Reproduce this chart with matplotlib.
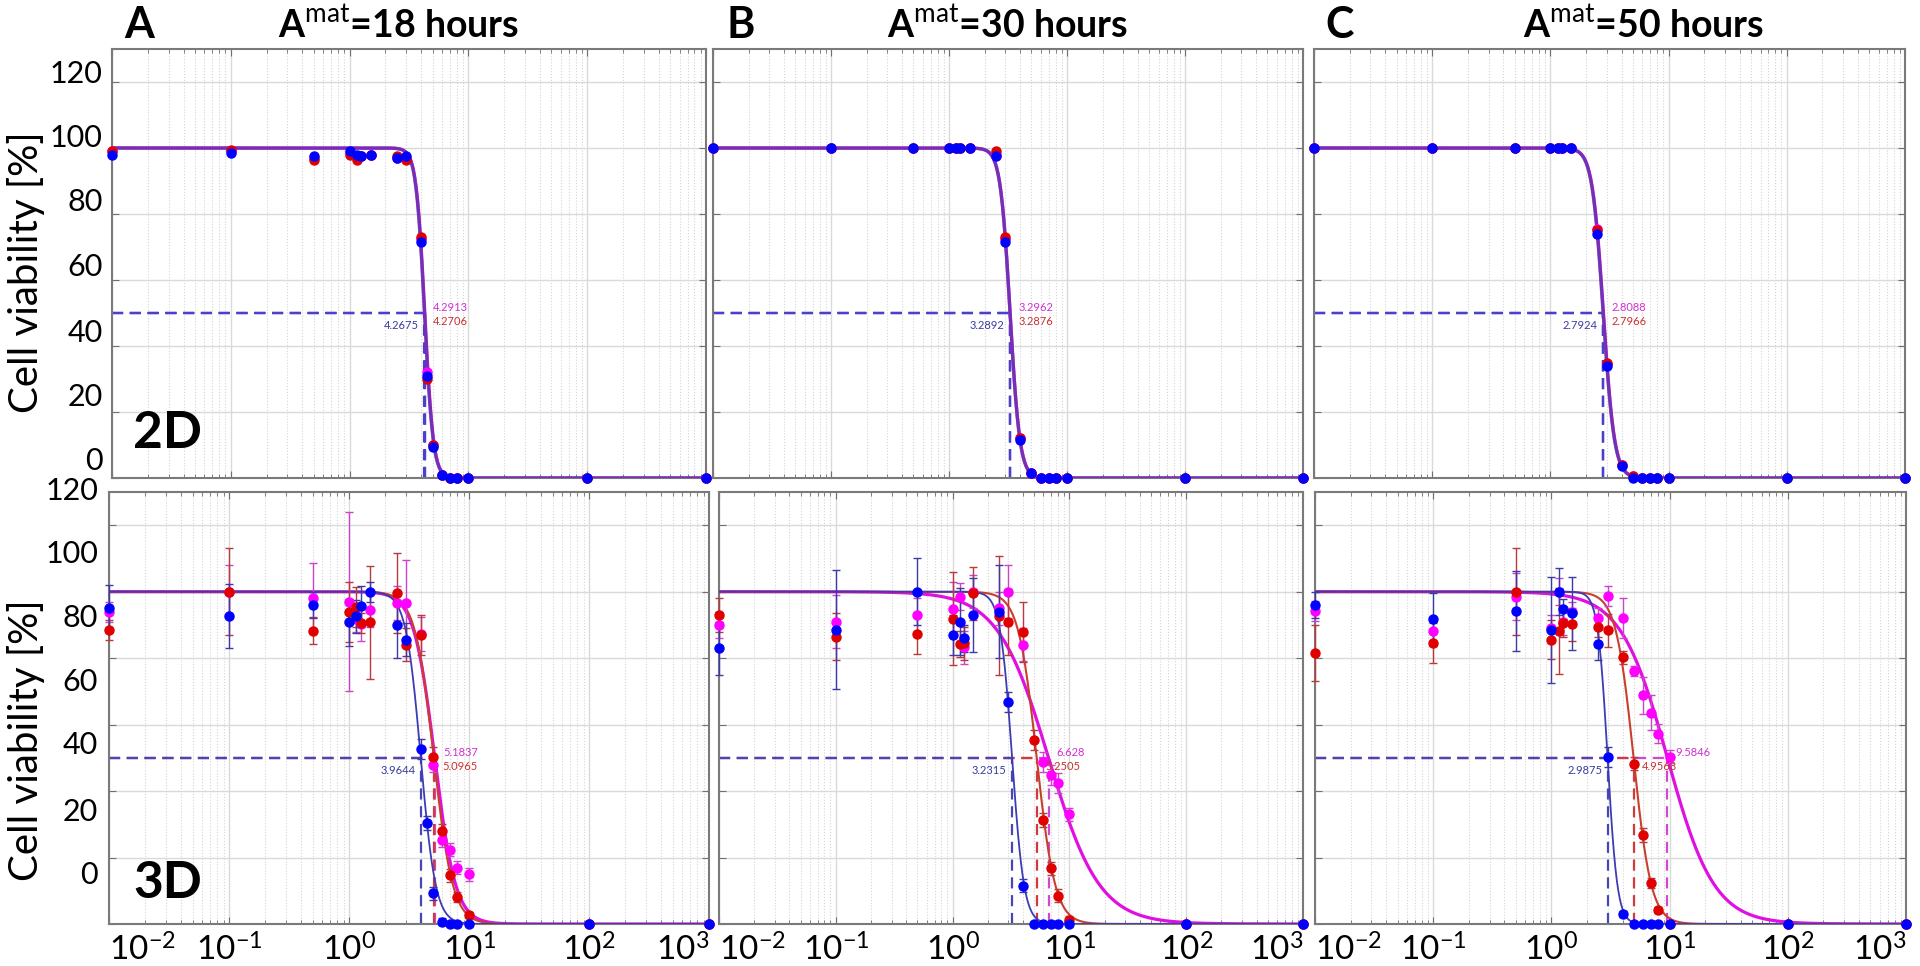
import numpy as np
import matplotlib
matplotlib.use("Agg")
import matplotlib.pyplot as plt
from matplotlib.ticker import LogLocator, NullFormatter

plt.rcParams['font.family'] = ['Lato', 'DejaVu Sans']
plt.rcParams['mathtext.fontset'] = 'custom'
plt.rcParams['mathtext.rm'] = 'Lato'
plt.rcParams['mathtext.bf'] = 'Lato:bold'

# --- DATA ---
conc = [0.01, 0.1, 0.5, 1.0, 1.15, 1.25, 1.5, 2.5, 3.0, 4.0, 4.5, 5.0, 6.0, 7.0, 8.0, 10.0, 100.0, 1000.0]
nan = float('nan')

hours = [18, 30, 50]
letters = ['A', 'B', 'C']

# 2D (top row) viability [%]
a2d_blue = [98, 98.5, 97.5, 99, 98, 97.5, 98, 97, 97.5, 71.5, 31, 9.5, 1, 0, 0, 0, 0, 0]
a2d_red = [99, 99.5, 96.5, 98, 96.5, 97.5, 98, 97.5, 96.5, 73, 30, 10, 1, 0, 0, 0, 0, 0]
a2d_mag = [99, 99, 97, 98.5, 97, 97.5, 98, 97, 97, 72.5, 32, 10, 1, 0, 0, 0, 0, 0]

b2d_blue = [100, 100, 100, 100, 100, 100, 100, 97.5, 71.5, 11.5, nan, 1.5, 0, 0, 0, 0, 0, 0]
b2d_red = [100, 100, 100, 100, 100, 100, 100, 99, 73, 12, nan, 1.5, 0, 0, 0, 0, 0, 0]
b2d_mag = [100, 100, 100, 100, 100, 100, 100, 98, 72.5, 12, nan, 1.5, 0, 0, 0, 0, 0, 0]

c2d_blue = [100, 100, 100, 100, 100, 100, 100, 74, 34, 3.5, nan, 0, 0, 0, 0, 0, 0, 0]
c2d_red = [100, 100, 100, 100, 100, 100, 100, 75, 35, 4, nan, 0.5, 0, 0, 0, 0, 0, 0]
c2d_mag = [100, 100, 100, 100, 100, 100, 100, 75.5, 34.5, 4, nan, 0.5, 0, 0, 0, 0, 0, 0]

# 3D (bottom row) viability [%] and error bars
a3d_blue = [95, 92.7, 96, 90.8, 92.6, 95.8, 100, 90, 85.5, 52.8, 30.4, 9.2, 0.7, 0, 0, 0, 0, 0]
a3d_blue_err = [7, 9.5, 4, 7, 5, 6, 3, 10, 5, 3, 2, 2, 1, 0.5, 0.5, 0.5, 0.5, 0.5]
a3d_red = [88.5, 100, 88.3, 94, 95.3, 90.5, 90.8, 99.5, 84, 87, nan, 50.4, 28, 14.7, 8, 2.7, 0, 0]
a3d_red_err = [3, 13, 4, 9, 6, 3, 17, 12, 5, 6, 0, 3, 2, 2, 1.5, 1, 0.5, 0.5]
a3d_mag = [94, 100, 98, 97, 91.8, 90.3, 94.5, 96.6, 96.6, 87.3, nan, 47.7, 25.2, 22.4, 17, 15, 0, 0]
a3d_mag_err = [3, 8, 10.5, 27, 4, 5, 5, 5, 13, 5, 0, 2, 2, 2, 2, 2, 0.5, 0.5]

b3d_blue = [83, 88.6, 100, 87, 91, 86, 93, 94, 66.8, 11.5, nan, 0, 0, 0, 0, 0, 0, 0]
b3d_blue_err = [8, 18, 10, 6, 10, 4, 11, 14, 3, 2, 0, 0.5, 0.5, 0.5, 0.5, 0.5, 0.5, 0.5]
b3d_red = [93, 86.5, 87.3, 91.8, 84.3, 84.5, 99.5, 92.8, 90.8, 87.8, nan, 55.3, 31.3, 16.8, 8.5, 1.3, 0, 0]
b3d_red_err = [5, 7, 6, 14, 4, 5, 8, 18, 10, 9, 0, 3, 2, 2, 2, 1, 0.5, 0.5]
b3d_mag = [90, 91, 93, 94.8, 98.5, 83.3, 100, 95, 100, 84, nan, nan, 48.8, 44.8, 42.3, 33, 0, 0]
b3d_mag_err = [4, 8, 5, 8, 4, 5, 5, 5, 8, 5, 0, 0, 3, 3, 3, 2, 0.5, 0.5]

c3d_blue = [96, 91.7, 94.2, 88.4, 100, 94.7, 93.5, 84.4, 50.3, 3, nan, 0, 0, 0, 0, 0, 0, 0]
c3d_blue_err = [4, 8, 12, 16, 7, 3, 11, 5, 3, 1, 0, 0.5, 0.5, 0.5, 0.5, 0.5, 0.5, 0.5]
c3d_red = [81.5, 84.6, 100, 85.6, 88.1, 90.5, 90.2, 89.4, 88.4, 80.2, nan, 48.2, 26.8, 12.3, 4.2, 0, 0, 0]
c3d_red_err = [8.5, 6, 13, 6, 13, 4, 5, 3, 5, 2, 0, 2, 2, 1.5, 1, 0.5, 0.5, 0.5]
c3d_mag = [94.3, 88.1, 98.5, 89, 100, 91, 94, 92.2, 98.7, 92, nan, 76, 68.8, 63.6, 57.3, 50.3, 0, 0]
c3d_mag_err = [3, 4, 7, 4, 4, 4, 3, 3, 3, 6, 0, 1.5, 5.5, 5.3, 2.8, 2, 0.5, 0.5]

# fitted IC50 values (blue, red, magenta), their printed labels, and hill slopes
ic50_2d = [[4.2675, 4.2706, 4.2913], [3.2892, 3.2876, 3.2962], [2.7924, 2.7966, 2.8088]]
ic50_2d_txt = [['4.2675', '4.2706', '4.2913'], ['3.2892', '3.2876', '3.2962'], ['2.7924', '2.7966', '2.8088']]
hill_2d = [[12, 12, 12], [10.5, 10.5, 10.5], [9.2, 9.2, 9.2]]
ic50_3d = [[3.9644, 5.0965, 5.1837], [3.2315, 5.2505, 6.628], [2.9875, 4.9568, 9.5846]]
ic50_3d_txt = [['3.9644', '5.0965', '5.1837'], ['3.2315', '5.2505', '6.628'], ['2.9875', '4.9568', '9.5846']]
hill_3d = [[7, 5.5, 5], [8.5, 5.5, 2.0], [10.5, 5.8, 2.2]]

ytick_vals = [0, 20, 40, 60, 80, 100, 120]
ytick_pos_2d = [5, 24.5, 44, 64, 83.5, 103, 122.5]
ytick_pos_3d = [14.7, 33.6, 53.8, 72.7, 92.2, 111.4, 130.3]
xtick_vals = [1e-2, 1e-1, 1e0, 1e1, 1e2, 1e3]
xtick_labels = [r'$\mathrm{10^{-2}}$', r'$\mathrm{10^{-1}}$', r'$\mathrm{10^{0}}$',
                r'$\mathrm{10^{1}}$', r'$\mathrm{10^{2}}$', r'$\mathrm{10^{3}}$']

data_2d = [(a2d_blue, a2d_red, a2d_mag), (b2d_blue, b2d_red, b2d_mag), (c2d_blue, c2d_red, c2d_mag)]
data_3d = [((a3d_blue, a3d_blue_err), (a3d_red, a3d_red_err), (a3d_mag, a3d_mag_err)),
           ((b3d_blue, b3d_blue_err), (b3d_red, b3d_red_err), (b3d_mag, b3d_mag_err)),
           ((c3d_blue, c3d_blue_err), (c3d_red, c3d_red_err), (c3d_mag, c3d_mag_err))]

# --- STYLE ---
W, H = 1920, 966
pt_col = ['#0000ff', '#e00000', '#ff00ff']
err_col = ['#3a3aa8', '#b83a3a', '#cc44cc']
curve_col = ['#3c3cb4', '#c8402c', '#e010e0']
curve_lw = [1.3, 1.5, 2.3]
dash_col = ['#4646b4', '#d03a3a', '#d048d0']
txt_col = ['#3a3aa0', '#c83030', '#d030d0']
# offsets (points) of IC50 labels: blue, red, magenta
lab_off = [(-4, -9), (6, -6), (6, 4)]

top_rects = [(112, 706), (713, 1303), (1314, 1905)]
bot_rects = [(109, 709), (719, 1303), (1315, 1906)]


def rect(x0, x1, y0, y1):
    return [x0 / W, 1 - y1 / H, (x1 - x0) / W, (y1 - y0) / H]


def logistic(x, ic, h):
    return 100.0 / (1.0 + (x / ic) ** h)


def style_axes(ax, bottom_labels):
    ax.set_xscale('log')
    ax.set_xlim(1e-2, 1e3)
    ax.set_ylim(0, 130)
    ax.set_yticks(ytick_vals)
    ax.xaxis.set_major_locator(LogLocator(base=10, numticks=10))
    ax.xaxis.set_minor_locator(LogLocator(base=10, subs=np.arange(2, 10), numticks=20))
    ax.xaxis.set_minor_formatter(NullFormatter())
    ax.grid(True, which='major', color='#dadada', lw=1.0)
    ax.grid(True, which='minor', axis='x', color='#d4d4d4', ls=':', lw=0.8)
    ax.set_axisbelow(True)
    ax.tick_params(which='both', direction='in', top=True, right=True, colors='#707070',
                   labelleft=False, labelbottom=bottom_labels)
    ax.tick_params(which='major', length=5)
    ax.tick_params(which='minor', length=3)
    for s in ax.spines.values():
        s.set_color('#7a7a7a')
        s.set_linewidth(1.5)
    if bottom_labels:
        ax.set_xticks(xtick_vals)
        ax.set_xticklabels(xtick_labels, fontsize=24, color='black')
        ax.tick_params(axis='x', which='major', pad=7, labelcolor='black')
        labs = ax.get_xticklabels()
        labs[0].set_ha('left')
        labs[-1].set_ha('right')


def ic50_marks(ax, ics, labels, colors):
    for k in (2, 1, 0):
        ax.plot([1e-2, ics[k]], [50, 50], ls=(0, (5, 3)), color=colors[k], lw=1.6, zorder=2)
        ax.plot([ics[k], ics[k]], [0, 50], ls=(0, (5, 3)), color=colors[k], lw=1.6, zorder=2)
    for k in range(3):
        ax.annotate(labels[k], xy=(ics[k], 50), xytext=lab_off[k], textcoords='offset points',
                    ha='right' if k == 0 else 'left', va='center', fontsize=8,
                    color=txt_col[k], zorder=6)


fig = plt.figure(figsize=(19.2, 9.66), dpi=100)
xs = np.logspace(-2, 3, 800)
conc_arr = np.array(conc)

for i in range(3):
    # top row: 2D
    ax = fig.add_axes(rect(top_rects[i][0], top_rects[i][1], 49, 478))
    style_axes(ax, False)
    ic50_marks(ax, ic50_2d[i], ic50_2d_txt[i], ['#4c40c8'] * 3)
    top_alpha = [0.65, 0.2, 1.0]
    for k in (2, 1, 0):
        ax.plot(xs, logistic(xs, ic50_2d[i][k], hill_2d[i][k]), color=curve_col[k],
                lw=2.4, alpha=top_alpha[k], zorder=3)
    for k in (2, 1, 0):
        ax.plot(conc_arr, data_2d[i][k], 'o', ms=6.5, color=pt_col[k], zorder=4, clip_on=False)

    # bottom row: 3D
    ax2 = fig.add_axes(rect(bot_rects[i][0], bot_rects[i][1], 492, 924))
    style_axes(ax2, True)
    ic50_marks(ax2, ic50_3d[i], ic50_3d_txt[i], dash_col)
    for k in (2, 1, 0):
        ax2.plot(xs, logistic(xs, ic50_3d[i][k], hill_3d[i][k]), color=curve_col[k],
                 lw=curve_lw[k], zorder=3)
    for k in (2, 1, 0):
        vals, errs = data_3d[i][k]
        ax2.errorbar(conc_arr, vals, yerr=errs, fmt='o', ms=6.5, color=pt_col[k],
                     ecolor=err_col[k], elinewidth=1.0, capsize=3, capthick=1.0,
                     zorder=4, clip_on=False)

    if i == 0:
        for v, p in zip(ytick_vals, ytick_pos_2d):
            ax.text(-0.016, p, str(v), transform=ax.get_yaxis_transform(), ha='right',
                    va='center', fontsize=22, clip_on=False)
        for v, p in zip(ytick_vals, ytick_pos_3d):
            ax2.text(-0.018, p, str(v), transform=ax2.get_yaxis_transform(), ha='right',
                     va='center', fontsize=22, clip_on=False)
        ax.text(0.035, 0.07, '2D', transform=ax.transAxes, fontsize=37, fontweight='bold')
        ax2.text(0.04, 0.06, '3D', transform=ax2.transAxes, fontsize=37, fontweight='bold')

# titles and panel letters
title_x = [399, 1008, 1644]
letter_x = [139, 741, 1340]
for i in range(3):
    fig.text(title_x[i] / W, 1 - 38 / H, 'A$^{\\mathrm{mat}}$=' + f'{hours[i]} hours',
             ha='center', va='baseline', fontsize=27, fontweight='bold')
    fig.text(letter_x[i] / W, 1 - 38 / H, letters[i], ha='center', va='baseline',
             fontsize=31, fontweight='bold')

fig.text(26 / W, 1 - 272 / H, 'Cell viability [%]', rotation=90, ha='center', va='center',
         fontsize=29)
fig.text(26 / W, 1 - 740 / H, 'Cell viability [%]', rotation=90, ha='center', va='center',
         fontsize=29)

fig.savefig('out.png', dpi=100)
